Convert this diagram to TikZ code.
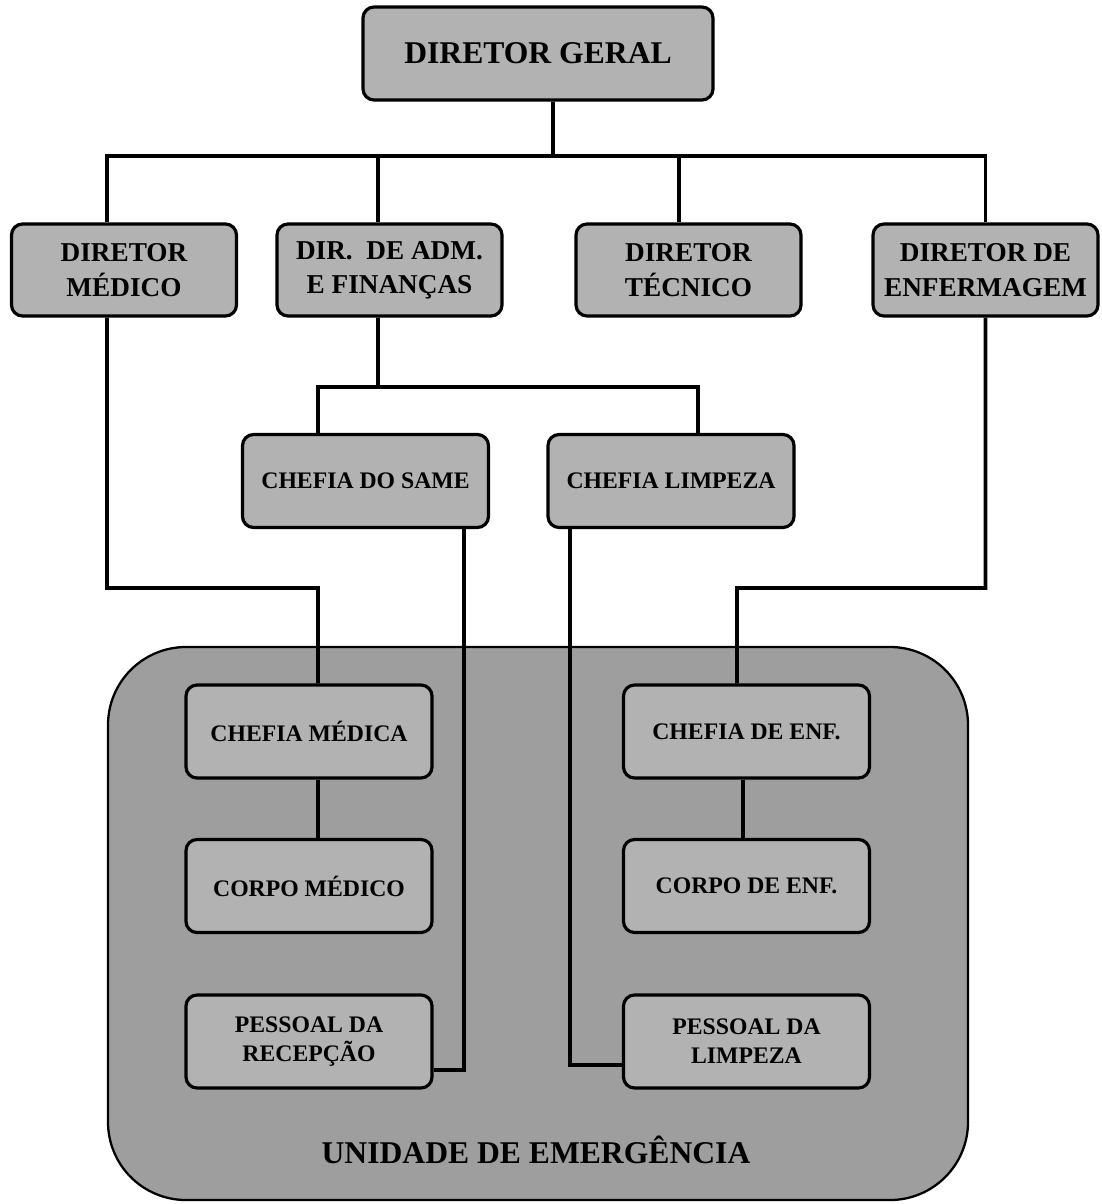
\documentclass[tikz,border=0pt]{standalone}
\usepackage{fontspec}
\setmainfont{Liberation Serif}
\usetikzlibrary{calc}

\begin{document}
\begin{tikzpicture}[
  box/.style={draw, line width=1.8pt, rounded corners=0.22cm, fill=black!30, align=center, inner sep=0pt},
  topbox/.style={box, minimum width=4.5cm, minimum height=1.84cm, font=\fontsize{15.5}{19.5}\selectfont\bfseries},
  chefbox/.style={box, minimum width=4.92cm, minimum height=1.86cm, font=\fontsize{13.5}{16.5}\selectfont\bfseries},
  link/.style={line width=2.2pt}
]
\useasboundingbox (0,0) rectangle (22.02,-24.08);
% emergency unit: big rounded panel behind the lower boxes
\draw[line width=1.3pt, fill=black!38, rounded corners=1.56cm] (2.16,-12.94) rectangle (19.36,-24.0);
\node[font=\fontsize{18}{22}\selectfont\bfseries, anchor=base] (unit) at (10.72,-23.26) {UNIDADE DE EMERGÊNCIA};
% top of the chart
\node[box, minimum width=7.0cm, minimum height=1.86cm, font=\fontsize{18}{22}\selectfont\bfseries] (dg) at (10.76,-1.07) {DIRETOR GERAL};
\node[topbox] (dirmed) at (2.48,-5.40) {DIRETOR\\MÉDICO};
\node[topbox] (diradm) at (7.79,-5.40) {DIR.~~DE ADM.\\E FINANÇAS};
\node[topbox] (dirtec) at (13.77,-5.40) {DIRETOR\\TÉCNICO};
\node[topbox] (direnf) at (19.71,-5.40) {DIRETOR DE\\ENFERMAGEM};
% chiefs under adm. and finances
\node[chefbox] (same) at (7.31,-9.62) {CHEFIA DO SAME};
\node[chefbox] (limp) at (13.42,-9.62) {CHEFIA LIMPEZA};
% boxes inside the emergency unit
\node[chefbox] (chefmed) at (6.18,-14.63) {CHEFIA MÉDICA};
\node[chefbox] (corpomed) at (6.18,-17.72) {CORPO MÉDICO};
\node[chefbox] (pessrec) at (6.18,-20.83) {PESSOAL DA\\RECEPÇÃO};
\node[chefbox] (chefenf) at (14.93,-14.63) {CHEFIA DE ENF.};
\node[chefbox] (corpoenf) at (14.93,-17.72) {CORPO DE ENF.};
\node[chefbox] (pesslimp) at (14.93,-20.83) {PESSOAL DA\\LIMPEZA};
% bus under the director
\coordinate (bus) at (11.06,-3.12);
\draw[link] ([xshift=3mm]dg.south) -- (bus);
\draw[link] ([xshift=-3.4mm]dirmed.north) |- (bus) -| (direnf.north);
\draw[link] ([xshift=-2.3mm]diradm.north) -- ([xshift=-2.3mm]diradm.north |- bus);
\draw[link] ([xshift=-1.9mm]dirtec.north) -- ([xshift=-1.9mm]dirtec.north |- bus);
% adm. and finances to its two chiefs
\coordinate (midbus) at (7.56,-7.74);
\draw[link] ([xshift=-2.3mm]diradm.south) -- (midbus);
\draw[link] ([xshift=-9.5mm]same.north) |- (midbus) -| ([xshift=5.4mm]limp.north);
% medical and nursing lines into the unit
\coordinate (medbus) at (6.36,-11.76);
\coordinate (enfbus) at (14.74,-11.76);
\draw[link] ([xshift=-3.4mm]dirmed.south) |- (medbus) -- ([xshift=1.8mm]chefmed.north);
\draw[link] (direnf.south) |- (enfbus) -- ([xshift=-1.9mm]chefenf.north);
\draw[link] ([xshift=1.8mm]chefmed.south) -- ([xshift=1.8mm]corpomed.north);
\draw[link] ([xshift=-0.7mm]chefenf.south) -- ([xshift=-0.7mm]corpoenf.north);
% same and cleaning chiefs down to their staff
\draw[link] ([xshift=-5.2mm]same.south east) |- ([yshift=-5.7mm]pessrec.east);
\draw[link] ([xshift=4.8mm]limp.south west) |- ([yshift=-4.7mm]pesslimp.west);
\end{tikzpicture}
\end{document}
